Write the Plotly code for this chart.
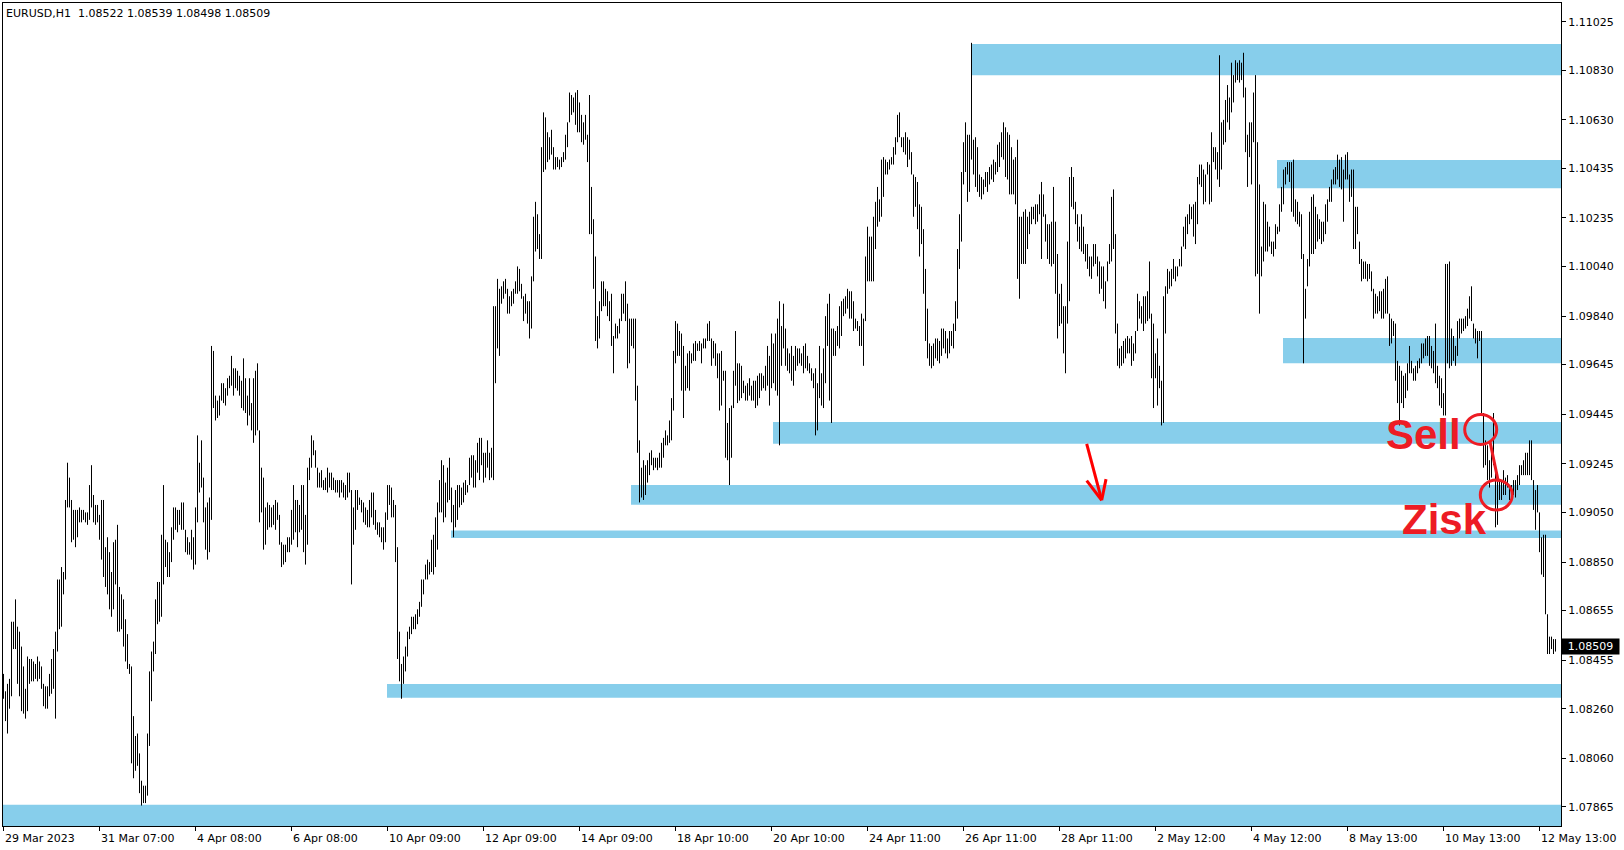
import plotly.graph_objects as go

# ---------------- DATA ----------------
# Hourly EURUSD bars, values in pips above 1.07000 as (high, low)
BASE = 1.07
PIP = 0.0001

bars_29mar_05apr = [
    (140,130),(133,121),(136,116),(138,126),(161,131),(161,150),(170,150),(159,136),(157,131),(151,125),
    (143,124),(134,122),(147,125),(146,136),(146,137),(145,137),(144,138),(147,137),(145,138),(143,134),
    (136,127),(135,126),(135,126),(140,131),(146,132),(150,134),(157,122),(178,149),(178,158),(183,159),
    (181,172),(210,178),(225,207),(219,207),(210,193),(206,194),(206,191),(206,195),(207,201),(206,201),
    (206,202),(205,201),(205,200),(216,202),(224,207),(212,201),(208,200),(208,201),(204,194),(210,186),
    (210,179),(191,175),(195,172),(189,166),(181,163),(193,166),(194,176),(200,157),(175,157),(172,158),
    (170,151),(162,145),(156,142),(144,140),(143,104),(123,98),(115,101),(116,103),(108,92),(97,87),
    (95,88),(95,88),(116,91),(141,111),(149,129),(153,141),(170,148),(177,160),(177,161),(196,163),
    (216,176),(194,183),(193,179),(189,179),(199,185),(207,194),(207,198),(206,197),(206,200),(209,198),
    (209,198),(198,189),(195,188),(193,188),(198,186),(195,182),(207,184),(236,201),(225,213),(234,215),
    (219,201),(207,190),(209,186),(211,189),(272,202),(270,247),(252,242),(250,243),(252,244),(257,250),
    (257,249),(255,248),(259,252),(260,255),(268,256),(263,252),(263,255),(262,254),(260,252),(258,247),
    (267,246),(259,245),(252,240),(259,244),(249,238),(259,233),(262,236),(265,238),(238,201),
]
bars_05apr_12apr = [
    (223,205),(219,190),(207,192),(209,198),(208,199),(207,199),(208,200),(210,198),(209,202),(204,192),
    (193,183),(192,184),(192,185),(195,189),(195,189),(206,192),(216,194),(210,197),(210,191),(208,197),
    (216,198),(216,189),(204,184),(223,192),(227,218),(236,223),(234,228),(230,223),(223,215),(221,215),
    (222,215),(218,214),(219,214),(223,213),(221,215),(221,214),(219,214),(218,213),(218,213),(218,211),
    (218,213),(217,211),(216,210),(221,211),(221,213),(214,176),(207,192),(214,198),(214,206),(211,208),
    (210,205),(209,201),(207,200),(206,199),(210,199),(213,203),(213,200),(206,198),(201,196),(201,195),
    (199,193),(199,190),(205,193),(216,202),(216,208),(215,203),(210,203),(208,185),(191,146),(157,137),
    (144,130),(147,136),(151,141),(157,147),(159,154),(163,156),(163,158),(164,158),(166,160),(169,163),
    (178,167),(178,172),(184,178),(186,178),(185,180),(194,181),(196,180),(203,183),(209,190),(218,205),
    (226,205),(224,201),(217,203),(223,209),(227,210),(215,201),(208,195),(214,199),(216,202),(216,207),
    (215,208),(217,209),(218,212),(216,213),(227,216),(228,219),(228,215),(226,215),(233,221),(235,218),
    (235,224),(229,217),(229,219),(234,223),(229,218),(231,219),(288,218),(288,257),(299,271),(295,268),
    (296,289),(298,291),(299,293),(295,285),(292,285),(294,288),(295,289),(298,293),(304,293),(303,294),
]
bars_12apr_19apr = [
    (297,291),(292,282),(293,285),(290,281),(290,275),(300,279),(324,298),(330,310),(325,311),(317,307),
    (352,307),(366,342),(364,343),(358,346),(356,347),(359,349),(352,343),(348,343),(348,344),(347,343),
    (348,344),(350,346),(357,347),(362,352),(374,362),(373,365),(372,366),(374,361),(375,358),(370,358),
    (365,354),(362,353),(365,355),(357,346),(373,317),(336,317),(323,295),(308,274),(284,271),(290,275),
    (298,286),(298,288),(295,288),(294,284),(290,282),(293,272),(276,261),(281,275),(280,275),(283,277),
    (293,282),(293,285),(298,282),(289,263),(283,265),(283,272),(283,271),(283,250),(256,229),(234,209),
    (223,211),(226,210),(224,212),(226,217),(229,220),(230,224),(227,222),(227,223),(227,222),(229,223),
    (233,223),(235,227),(238,232),(236,232),(242,233),(251,234),(270,246),(282,265),(281,268),(278,268),
    (277,254),(272,243),(264,254),(269,255),(270,254),(269,265),(273,266),(274,266),(273,270),(274,270),
    (273,265),(275,271),(275,271),(281,274),(282,274),(275,264),(274,267),(273,264),(269,259),(269,246),
    (270,248),(262,258),(262,227),(241,226),(247,216),(248,227),(262,247),(278,256),(265,249),(265,250),
    (264,251),(258,253),(256,250),(257,250),(259,252),(256,250),(258,250),(258,247),(260,248),(261,251),
    (261,254),(260,255),(264,254),(272,256),(268,248),(277,255),(273,257),(277,254),(283,252),(290,232),
]
bars_20apr_27apr = [
    (280,264),(289,271),(279,264),(271,262),(269,261),(272,258),(268,256),(272,262),(271,264),(271,265),
    (269,264),(272,261),(273,263),(268,262),(265,261),(263,258),(261,255),(263,236),(257,238),(272,251),
    (261,248),(271,247),(284,257),(289,272),(293,250),(279,241),(279,268),(278,268),(280,272),(288,271),
    (290,276),(291,284),(292,285),(295,287),(294,283),(294,283),(290,278),(283,279),(282,278),(280,272),
    (285,272),(283,264),(308,282),(320,298),(316,298),(316,298),(324,298),(330,311),(336,320),(331,322),
    (347,324),(348,332),(347,341),(346,341),(347,343),(348,345),(352,345),(356,349),(365,354),(366,356),
    (356,352),(356,350),(358,349),(356,344),(355,347),(350,341),(341,324),(340,328),(338,319),(329,308),
    (328,313),(319,293),(303,274),(287,267),(273,264),(272,263),(273,264),(275,267),(275,266),(274,265),
    (279,268),(279,271),(278,269),(275,267),(278,269),(278,272),(281,271),(290,278),(311,283),(325,303),
    (342,314),(354,337),(362,342),(357,330),(357,334),(394,347),(355,341),(356,336),(352,334),(341,332),
    (340,331),(339,333),(342,336),(342,334),(344,337),(345,339),(347,338),(346,341),(353,342),(354,344),
    (358,348),(362,347),(360,340),(358,339),(357,333),(352,333),(347,333),(348,329),(355,299),(324,291),
    (324,305),(326,305),(327,305),(324,311),(326,317),(328,321),(328,323),(329,321),(329,322),(333,325),
]
bars_27apr_05may = [
    (338,307),(333,324),(325,314),(321,307),(321,305),(322,304),(336,305),(322,293),(309,275),(293,280),
    (297,281),(288,269),(288,261),(314,281),(340,290),(344,328),(340,327),(330,321),(325,314),(320,311),
    (325,310),(320,309),(313,306),(313,303),(308,300),(308,299),(313,304),(313,305),(308,300),(306,293),
    (304,295),(304,290),(298,287),(306,298),(313,305),(332,306),(335,311),(317,277),(281,264),(271,263),
    (272,264),(274,265),(275,267),(276,269),(275,269),(276,264),(273,266),(278,269),(293,278),(290,283),
    (288,281),(292,278),(292,281),(294,282),(306,283),(285,259),(281,247),(269,259),(275,248),(264,255),
    (258,240),(292,241),(296,277),(303,293),(302,295),(303,296),(307,299),(304,298),(304,300),(307,304),
    (312,304),(320,312),(324,311),(325,317),(329,321),(328,323),(329,316),(330,313),(340,321),(345,337),
    (345,336),(343,329),(341,330),(346,341),(345,329),(358,330),(352,346),(352,343),(350,339),(389,336),
    (362,343),(363,353),(371,354),(377,362),(372,359),(386,366),(381,370),(387,378),(386,379),(387,378),
    (386,379),(390,372),(376,350),(357,336),(362,348),(362,337),(374,354),(381,300),(354,301),(337,285),
    (312,300),(330,306),(329,310),(322,310),(320,312),(314,309),(314,308),(321,311),(320,317),(329,318),
    (336,326),(343,329),(344,337),(346,341),(346,338),(346,326),(347,324),(331,322),(330,321),(326,320),
]
bars_08may_12may = [
    (325,307),(309,265),(295,283),(307,296),(326,304),(332,309),(333,309),(328,311),(325,314),(323,315),
    (322,313),(322,314),(329,317),(331,322),(336,330),(339,330),(343,337),(344,337),(349,339),(347,336),
    (348,335),(343,322),(349,339),(350,339),(341,330),(343,332),(343,311),(328,311),(328,317),(314,305),
    (307,298),(306,299),(306,299),(305,298),(305,299),(302,294),(295,283),(293,285),(292,285),(294,286),
    (294,283),(295,283),(299,285),(300,285),(285,272),(283,273),(282,276),(281,258),(266,249),(264,240),
    (262,249),(260,247),(261,251),(265,254),(272,261),(266,261),(263,258),(264,258),(266,261),(267,263),
    (273,265),(273,267),(275,268),(276,268),(276,264),(272,263),(270,261),(281,257),(264,255),(260,248),
    (259,247),(253,244),(305,244),(305,265),(306,263),(279,264),(276,266),(272,264),(282,268),(283,275),
    (283,277),(283,278),(284,279),(287,280),(292,283),(296,282),(281,275),(279,273),(278,267),(278,274),
    (278,245),(245,223),(234,224),(232,218),(226,215),(229,219),(245,224),(224,199),(218,200),(218,210),
    (218,210),(222,212),(219,212),(220,215),(215,210),(216,211),(218,212),(218,211),(220,214),(224,216),
    (224,220),(226,220),(229,220),(229,220),(234,220),(234,218),(218,206),(214,198),(216,205),(205,189),
    (195,180),(196,179),(196,164),(164,148),(155,148),(155,150),(154,148),(154,149),
]

x_labels = ["29 Mar 2023", "31 Mar 07:00", "4 Apr 08:00", "6 Apr 08:00", "10 Apr 09:00",
            "12 Apr 09:00", "14 Apr 09:00", "18 Apr 10:00", "20 Apr 10:00", "24 Apr 11:00",
            "26 Apr 11:00", "28 Apr 11:00", "2 May 12:00", "4 May 12:00", "8 May 13:00",
            "10 May 13:00", "12 May 13:00"]
BARS_PER_LABEL = 48

y_ticks = [1.11025, 1.10830, 1.10630, 1.10435, 1.10235, 1.10040, 1.09840, 1.09645, 1.09445,
           1.09245, 1.09050, 1.08850, 1.08655, 1.08455, 1.08260, 1.08060, 1.07865]

# Support / resistance zones: starting bar, top price, bottom price
band_start = [484, 637, 640, 385, 314, 224, 192, 0]
band_top = [1.10935, 1.10468, 1.09752, 1.09414, 1.09160, 1.08977, 1.08359, 1.07873]
band_bottom = [1.10810, 1.10355, 1.09650, 1.09326, 1.09081, 1.08947, 1.08304, 1.07788]

header = "EURUSD,H1\u00a0\u00a01.08522 1.08539 1.08498 1.08509"
last_price = 1.08509

# ---------------- FIGURE ----------------
all_bars = (bars_29mar_05apr + bars_05apr_12apr + bars_12apr_19apr +
            bars_20apr_27apr + bars_27apr_05may + bars_08may_12may)

xs, ys = [], []
for i, (h, l) in enumerate(all_bars):
    xs += [i, i, None]
    ys += [BASE + l * PIP, BASE + h * PIP, None]

X0, X1 = -0.25, 778.75
Y0, Y1 = 1.077878, 1.111003

fig = go.Figure()
fig.add_trace(go.Scatter(x=xs, y=ys, mode="lines",
                         line=dict(color="black", width=1),
                         hoverinfo="skip", showlegend=False))

shapes = []
for s, t, b in zip(band_start, band_top, band_bottom):
    shapes.append(dict(type="rect", xref="x", yref="y", x0=max(s - 0.25, X0), x1=X1,
                       y0=b, y1=t, fillcolor="#87CEEB", line=dict(width=0), layer="below"))

RED = "#ED1C24"
# circles (Sell / Zisk)
for cx, cy in [(738.6, 1.09384), (746.4, 1.09120)]:
    shapes.append(dict(type="circle", xref="x", yref="y", xsizemode="pixel", ysizemode="pixel",
                       xanchor=cx, yanchor=cy, x0=-16, x1=16, y0=-15, y1=15,
                       line=dict(color=RED, width=3)))
shapes.append(dict(type="line", xref="x", yref="y", x0=743.25, y0=1.09335, x1=747.4, y1=1.09174,
                   line=dict(color=RED, width=3)))
# red arrow
ARW = "#FF0000"
for (ax0, ay0, ax1, ay1) in [(541.6, 1.09326, 549.1, 1.09099),
                             (549.1, 1.09099, 541.6, 1.09178),
                             (549.1, 1.09099, 551.25, 1.09184)]:
    shapes.append(dict(type="line", xref="x", yref="y", x0=ax0, y0=ay0, x1=ax1, y1=ay1,
                       line=dict(color=ARW, width=3)))

AX_FONT = dict(family="DejaVu Sans", size=11, color="black")
annotations = []
for k, lab in enumerate(x_labels):
    annotations.append(dict(x=k * BARS_PER_LABEL, xref="x", y=0, yref="paper", text=lab,
                            xanchor="left", yanchor="top", yshift=-4, xshift=-1,
                            showarrow=False, font=AX_FONT))
annotations.append(dict(x=0, xref="paper", y=1, yref="paper", text=header, xanchor="left",
                        yanchor="top", xshift=1, yshift=-2, showarrow=False, font=AX_FONT))
annotations.append(dict(x=1, xref="paper", y=last_price, yref="y", text=f"{last_price:.5f}",
                        xanchor="left", yanchor="middle", showarrow=False, bgcolor="black",
                        width=55, align="center", borderpad=1,
                        font=dict(family="DejaVu Sans", size=11, color="white")))
annotations.append(dict(x=709.75, xref="x", y=1.093655, yref="y", text="<b>Sell</b>",
                        xanchor="center", yanchor="middle", showarrow=False,
                        font=dict(family="Liberation Sans", size=42, color=RED)))
annotations.append(dict(x=720.4, xref="x", y=1.090218, yref="y", text="<b>Zisk</b>",
                        xanchor="center", yanchor="middle", showarrow=False,
                        font=dict(family="Liberation Sans", size=42, color=RED)))

fig.update_layout(
    width=1624, height=850,
    margin=dict(l=3, r=63, t=3, b=24, autoexpand=False),
    paper_bgcolor="white", plot_bgcolor="white",
    showlegend=False,
    shapes=shapes, annotations=annotations,
    xaxis=dict(range=[X0, X1], showgrid=False, zeroline=False,
               tickvals=[k * BARS_PER_LABEL for k in range(len(x_labels))],
               showticklabels=False, ticks="outside", ticklen=4, tickcolor="black",
               showline=True, linecolor="black", linewidth=1, mirror=True,
               fixedrange=True),
    yaxis=dict(range=[Y0, Y1], side="right", showgrid=False, zeroline=False,
               tickvals=y_ticks, ticktext=[f"{v:.5f}" for v in y_ticks],
               ticks="outside", ticklen=4, tickcolor="black", tickfont=AX_FONT,
               showline=True, linecolor="black", linewidth=1, mirror=True,
               automargin=False, fixedrange=True),
)

fig.write_html("out.html", config={"displayModeBar": False},
               post_script="document.body.style.margin='0';document.body.style.overflow='hidden';")
